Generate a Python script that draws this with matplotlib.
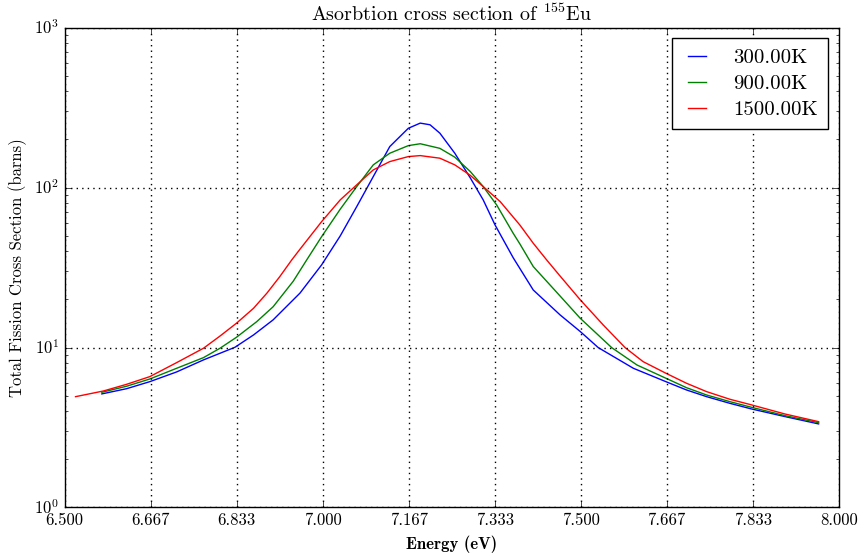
import matplotlib
matplotlib.use("Agg")
import matplotlib.pyplot as plt
import numpy as np

plt.style.use("classic")
plt.rcParams["font.family"] = "serif"
plt.rcParams["font.serif"] = ["cmr10"]
plt.rcParams["mathtext.fontset"] = "cm"
plt.rcParams["axes.formatter.use_mathtext"] = True

# ---- data ----
e_300 = [6.572, 6.620, 6.665, 6.717, 6.769, 6.830, 6.866, 6.904, 6.956, 6.998,
         7.034, 7.066, 7.098, 7.130, 7.166, 7.189, 7.208, 7.227, 7.256, 7.286,
         7.311, 7.334, 7.369, 7.408, 7.460, 7.499, 7.534, 7.602, 7.665, 7.705,
         7.744, 7.789, 7.831, 7.896, 7.961]
s_300 = [5.13, 5.53, 6.12, 7.04, 8.37, 10.04, 11.99, 14.9, 21.9, 32.9,
         49.9, 76.1, 117.2, 180.5, 235, 253, 247, 219, 164, 115,
         83.8, 58.4, 36.5, 22.9, 16.0, 12.6, 9.99, 7.42, 6.12, 5.43,
         4.93, 4.48, 4.13, 3.70, 3.33]

e_900 = [6.572, 6.620, 6.665, 6.717, 6.769, 6.801, 6.833, 6.872, 6.904, 6.943,
         6.969, 6.998, 7.034, 7.066, 7.098, 7.130, 7.166, 7.189, 7.227, 7.256,
         7.286, 7.311, 7.337, 7.369, 7.382, 7.408, 7.460, 7.499, 7.560, 7.609,
         7.665, 7.705, 7.744, 7.789, 7.831, 7.896, 7.961]
s_900 = [5.25, 5.73, 6.36, 7.42, 8.65, 9.90, 11.6, 14.5, 18.0, 26.0,
         35.3, 49.4, 73.3, 101.5, 138.7, 164, 183, 188, 176, 155,
         126, 101.5, 78.0, 51.9, 44.5, 32.1, 21.0, 15.25, 9.99, 7.78,
         6.43, 5.61, 5.05, 4.59, 4.23, 3.75, 3.39]

e_1500 = [6.521, 6.575, 6.620, 6.665, 6.717, 6.769, 6.801, 6.833, 6.866, 6.892,
          6.917, 6.940, 6.956, 6.998, 7.034, 7.063, 7.098, 7.130, 7.166, 7.189,
          7.227, 7.256, 7.285, 7.311, 7.344, 7.382, 7.408, 7.434, 7.460, 7.499,
          7.544, 7.586, 7.621, 7.665, 7.705, 7.744, 7.789, 7.831, 7.896, 7.961]
s_1500 = [4.93, 5.35, 5.89, 6.58, 8.05, 9.90, 11.8, 14.2, 17.6, 21.9,
          27.8, 35.3, 41.2, 61.3, 83.8, 102, 129, 145.4, 156.3, 158.5,
          152.7, 138.7, 120, 101.5, 81.7, 58.4, 44.9, 35.3, 28.0, 19.9,
          13.8, 9.99, 8.16, 6.91, 5.98, 5.30, 4.75, 4.38, 3.84, 3.44]

labels = ["300.00K", "900.00K", "1500.00K"]
xticks = [6.5, 6.667, 6.833, 7.0, 7.167, 7.333, 7.5, 7.667, 7.833, 8.0]

fig = plt.figure(figsize=(8.59, 5.53), dpi=100)
fig.patch.set_facecolor("white")
ax = fig.add_axes([0.0753, 0.0823, 0.9011, 0.8677])

ax.plot(e_300, s_300, color="b", lw=1.0, label=labels[0])
ax.plot(e_900, s_900, color="g", lw=1.0, label=labels[1])
ax.plot(e_1500, s_1500, color="r", lw=1.0, label=labels[2])

ax.set_yscale("log")
ax.set_ylim(1, 1000)
ax.set_xlim(6.5, 8.0)
ax.set_xticks(np.linspace(6.5, 8.0, 10))
ax.set_xticklabels(["%.3f" % t for t in xticks])
ax.grid(True, color="k", linestyle=":", linewidth=1.0)

ax.set_title(r"Asorbtion cross section of $^{155}$Eu", fontsize=14.4)
ax.set_xlabel("Energy (eV)", fontsize=12, family="cmb10")
ax.set_ylabel("Total Fission Cross Section (barns)", fontsize=12)
ax.tick_params(labelsize=12)

leg = ax.legend(loc="upper right", fontsize=15, handlelength=1.45,
                handletextpad=1.0, labelspacing=0.35, borderpad=0.5,
                borderaxespad=0.5)
leg.get_frame().set_linewidth(1.0)

fig.savefig("out.png", dpi=100, facecolor="white")
